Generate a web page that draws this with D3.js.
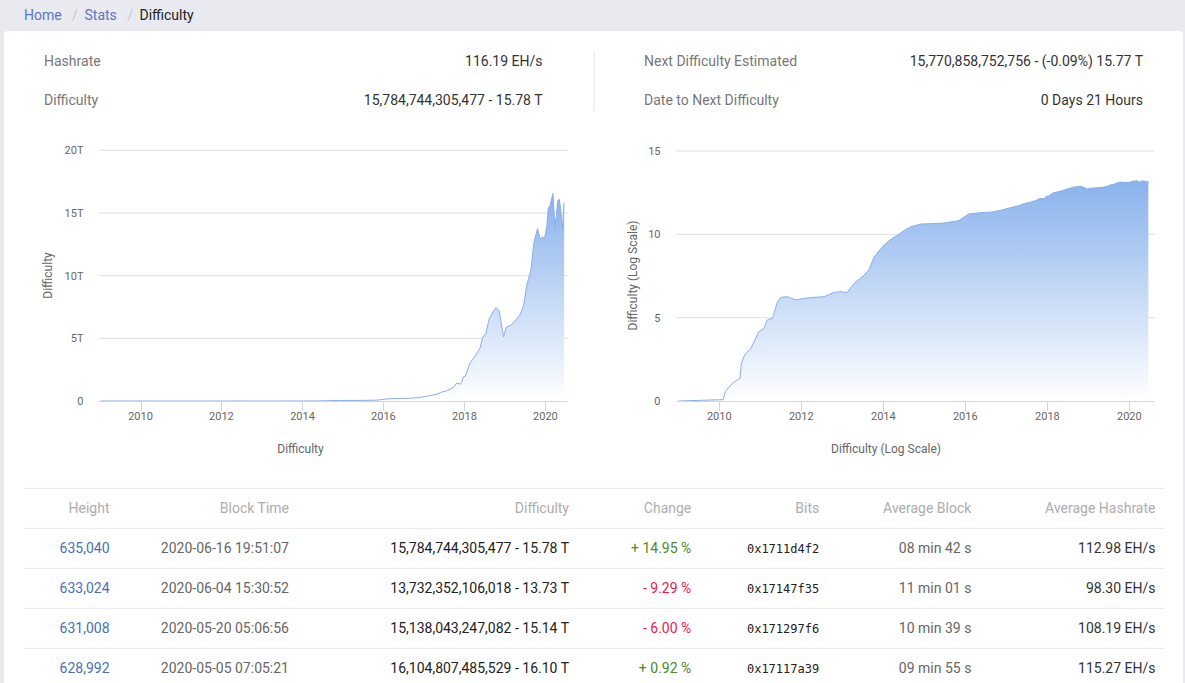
<!DOCTYPE html>
<html>
<head>
<meta charset="utf-8">
<title>Difficulty</title>
<script src="https://d3js.org/d3.v7.min.js"></script>
<style>
  body { margin: 0; background: #e9eaef; overflow: hidden; }
  svg text { font-family: Roboto, sans-serif; }
  .mono { font-family: "DejaVu Sans Mono", monospace; }
</style>
</head>
<body>
<svg id="page" width="1185" height="683"></svg>
<script>
// ---- data ----
var crumbs = ["Home", "Stats", "Difficulty"];

var statLabels = ["Hashrate", "Difficulty", "Next Difficulty Estimated", "Date to Next Difficulty"];
var statValues = ["116.19 EH/s", "15,784,744,305,477 - 15.78 T", "15,770,858,752,756 - (-0.09%) 15.77 T", "0 Days 21 Hours"];

// difficulty history (retarget dates, raw difficulty)
var diffDates = [
  "2009-01-03", "2010-02-05", "2010-02-24", "2010-04-27", "2010-06-10", "2010-07-05", "2010-07-16",
  "2010-08-15", "2010-10-09", "2010-11-07", "2010-12-20", "2011-02-03", "2011-03-04", "2011-04-20",
  "2011-06-03", "2011-07-02", "2011-08-29", "2011-11-14", "2012-01-26", "2012-04-23", "2012-07-23",
  "2012-10-19", "2012-12-20", "2013-02-10", "2013-04-16", "2013-07-16", "2013-08-27", "2013-10-12",
  "2014-01-08", "2014-03-10", "2014-05-08", "2014-07-10", "2014-09-05", "2014-12-01", "2015-06-10",
  "2015-11-01", "2016-02-01", "2016-05-01", "2016-08-28", "2016-11-15", "2017-01-15", "2017-03-15",
  "2017-04-28", "2017-06-10", "2017-07-20", "2017-08-25", "2017-09-28", "2017-10-22", "2017-11-25",
  "2017-12-06", "2017-12-22", "2018-01-08", "2018-02-20", "2018-04-05", "2018-05-22", "2018-06-13",
  "2018-07-12", "2018-08-15", "2018-09-20", "2018-10-12", "2018-11-10", "2018-12-03", "2018-12-20",
  "2019-01-12", "2019-03-05", "2019-04-12", "2019-05-15", "2019-06-18", "2019-07-16", "2019-08-22",
  "2019-09-20", "2019-10-22", "2019-11-13", "2019-12-28", "2020-01-14", "2020-01-27", "2020-02-10",
  "2020-03-09", "2020-03-26", "2020-04-08", "2020-04-21", "2020-05-05", "2020-05-20", "2020-06-04",
  "2020-06-16", "2020-06-18"
];
var diffValues = [
  1, 1.2, 3.6, 11.5, 18.2, 23, 182,
  575, 1445, 3630, 14450, 22900, 72400, 91200,
  912000, 1660000, 1820000, 1150000, 1450000, 1660000, 1820000,
  3310000, 3630000, 3160000, 11500000, 36300000, 79400000, 457000000,
  2.29e9, 5.0e9, 9.12e9, 1.78e10, 2.88e10, 4.17e10, 4.6e10,
  6.6e10, 1.66e11, 1.95e11, 2.2e11, 2.8e11, 3.6e11, 4.6e11,
  5.4e11, 7.1e11, 8.0e11, 9.4e11, 1.12e12, 1.42e12, 1.35e12,
  1.47e12, 1.93e12, 1.96e12, 3.03e12, 3.57e12, 4.24e12, 5.04e12,
  5.39e12, 6.65e12, 7.18e12, 7.45e12, 7.18e12, 5.98e12, 5.11e12,
  5.88e12, 6.11e12, 6.51e12, 6.84e12, 7.59e12, 9.2e12, 10.4e12,
  12.7e12, 13.75e12, 12.95e12, 13.1e12, 14.0e12, 15.4e12, 15.55e12,
  16.55e12, 13.91e12, 14.72e12, 15.96e12, 16.10e12, 15.14e12, 13.73e12,
  15.78e12, 15.78e12
];

var linTicks = [0, 5, 10, 15, 20];
var linTickLabels = ["0", "5T", "10T", "15T", "20T"];
var logTicks = [0, 5, 10, 15];
var logTickLabels = ["0", "5", "10", "15"];

var tableHeaders = ["Height", "Block Time", "Difficulty", "Change", "Bits", "Average Block", "Average Hashrate"];
var heights = ["635,040", "633,024", "631,008", "628,992"];
var blockTimes = ["2020-06-16 19:51:07", "2020-06-04 15:30:52", "2020-05-20 05:06:56", "2020-05-05 07:05:21"];
var rowDifficulty = ["15,784,744,305,477 - 15.78 T", "13,732,352,106,018 - 13.73 T", "15,138,043,247,082 - 15.14 T", "16,104,807,485,529 - 16.10 T"];
var changes = ["+ 14.95 %", "- 9.29 %", "- 6.00 %", "+ 0.92 %"];
var bits = ["0x1711d4f2", "0x17147f35", "0x171297f6", "0x17117a39"];
var avgBlocks = ["08 min 42 s", "11 min 01 s", "10 min 39 s", "09 min 55 s"];
var avgHashrates = ["112.98 EH/s", "98.30 EH/s", "108.19 EH/s", "115.27 EH/s"];

// ---- page ----
var svg = d3.select("#page");
var parse = d3.timeParse("%Y-%m-%d");
var series = diffDates.map(function (d, i) { return { date: parse(d), value: diffValues[i] }; });

// breadcrumb
var crumbX = [24, 84.5, 139.5];
svg.selectAll("text.crumb").data(crumbs).enter().append("text")
  .attr("class", "crumb")
  .attr("x", function (d, i) { return crumbX[i]; })
  .attr("y", 14.7).attr("dy", "0.35em")
  .style("font-size", "14px")
  .style("fill", function (d, i) { return i < 2 ? "#5a76c2" : "#222"; })
  .text(function (d) { return d; });
[72, 127.5].forEach(function (x) {
  svg.append("text").attr("x", x).attr("y", 14.7).attr("dy", "0.35em")
    .style("font-size", "14px").style("fill", "#c4c6cc").text("/");
});

// card
svg.append("rect").attr("x", 4).attr("y", 31).attr("width", 1179).attr("height", 700)
  .attr("rx", 4).style("fill", "#fff");

// stats
statLabels.forEach(function (l, i) {
  var col = Math.floor(i / 2), row = i % 2;
  var y = row === 0 ? 60.7 : 99.8;
  svg.append("text").attr("x", col === 0 ? 44 : 644).attr("y", y).attr("dy", "0.35em")
    .style("font-size", "14px").style("fill", "#777").text(l);
  svg.append("text").attr("x", col === 0 ? 542.5 : 1143).attr("y", y).attr("dy", "0.35em")
    .attr("text-anchor", "end")
    .style("font-size", "14px").style("fill", "#333").text(statValues[i]);
});
svg.append("line").attr("x1", 594).attr("x2", 594).attr("y1", 51).attr("y2", 111)
  .style("stroke", "#e3e3e3");

// gradient
var defs = svg.append("defs");
var grad = defs.append("linearGradient").attr("id", "areaGrad")
  .attr("x1", 0).attr("y1", 0).attr("x2", 0).attr("y2", 1);
grad.append("stop").attr("offset", "0%").attr("stop-color", "#89b2ec");
grad.append("stop").attr("offset", "100%").attr("stop-color", "#ffffff");

function drawChart(o) {
  var g = svg.append("g");
  var x = d3.scaleTime().domain(o.xDomain).range(o.xRange);
  var y = d3.scaleLinear().domain(o.yDomain).range([401, o.yTop]);

  // grid
  g.selectAll("line.grid").data(o.ticks.filter(function (t) { return t > 0; })).enter()
    .append("line")
    .attr("x1", o.xRange[0]).attr("x2", o.xRange[1])
    .attr("y1", function (d) { return y(d); }).attr("y2", function (d) { return y(d); })
    .style("stroke", "#dedede").style("stroke-width", 1);

  // y labels
  g.selectAll("text.ylab").data(o.ticks).enter().append("text")
    .attr("x", o.yLabelX).attr("y", function (d) { return y(d); }).attr("dy", "0.35em")
    .attr("text-anchor", "end")
    .style("font-size", "11px").style("fill", "#666")
    .text(function (d, i) { return o.tickLabels[i]; });

  // area + line
  var area = d3.area()
    .x(function (d) { return x(d.date); })
    .y0(y(0))
    .y1(function (d) { return y(o.val(d)); });
  var line = d3.line()
    .x(function (d) { return x(d.date); })
    .y(function (d) { return y(o.val(d)); });
  g.append("path").datum(series).attr("d", area).style("fill", "url(#areaGrad)");
  g.append("path").datum(series).attr("d", line)
    .style("fill", "none").style("stroke", "#88afe8").style("stroke-width", 1);

  // x axis
  g.append("line").attr("x1", o.xRange[0]).attr("x2", o.xRange[1])
    .attr("y1", 401.5).attr("y2", 401.5).style("stroke", "#ccd6eb");
  var xt = d3.timeYear.every(2).range(new Date(2010, 0, 1), o.xDomain[1]);
  g.selectAll("line.xt").data(xt).enter().append("line")
    .attr("x1", function (d) { return Math.round(x(d)) + 0.5; })
    .attr("x2", function (d) { return Math.round(x(d)) + 0.5; })
    .attr("y1", 401).attr("y2", 411).style("stroke", "#ccd6eb");
  g.selectAll("text.xl").data(xt).enter().append("text")
    .attr("x", function (d) { return x(d); }).attr("y", 415.7).attr("dy", "0.35em")
    .attr("text-anchor", "middle")
    .style("font-size", "11px").style("fill", "#666")
    .text(d3.timeFormat("%Y"));

  // titles
  g.append("text").attr("x", o.xTitleX).attr("y", 449).attr("dy", "0.35em")
    .attr("text-anchor", "middle").style("font-size", "12px").style("fill", "#666")
    .text(o.title);
  g.append("text").attr("transform", "translate(" + o.yTitleX + ",275.5) rotate(-90)")
    .attr("dy", "0.35em")
    .attr("text-anchor", "middle").style("font-size", "12px").style("fill", "#666")
    .text(o.title);
}

drawChart({
  xDomain: [new Date(2008, 11, 20), new Date(2020, 6, 19)],
  xRange: [98.7, 567.6],
  yDomain: [0, 20], yTop: 150.3,
  ticks: linTicks, tickLabels: linTickLabels, yLabelX: 83.5,
  val: function (d) { return d.value / 1e12; },
  title: "Difficulty", xTitleX: 300.5, yTitleX: 47.5
});

drawChart({
  xDomain: [new Date(2008, 11, 16), new Date(2020, 7, 10)],
  xRange: [676.5, 1154.3],
  yDomain: [0, 15], yTop: 151,
  ticks: logTicks, tickLabels: logTickLabels, yLabelX: 660.5,
  val: function (d) { return Math.log10(d.value); },
  title: "Difficulty (Log Scale)", xTitleX: 886, yTitleX: 633
});

// table
var colRight = [109.5, 289, 569, 691.3, 819.2, 971.4, 1155.5];
[488.3, 528.3, 568.3, 608.3, 648.3].forEach(function (y) {
  svg.append("line").attr("x1", 24).attr("x2", 1164).attr("y1", y).attr("y2", y)
    .style("stroke", "#e6e9ef");
});
tableHeaders.forEach(function (h, i) {
  svg.append("text").attr("x", colRight[i]).attr("y", 508.3).attr("dy", "0.35em")
    .attr("text-anchor", "end").style("font-size", "14px").style("fill", "#adadad").text(h);
});
var columns = [heights, blockTimes, rowDifficulty, changes, bits, avgBlocks, avgHashrates];
var colColors = ["#4a70b4", "#666", "#222", null, "#222", "#666", "#333"];
heights.forEach(function (h, r) {
  var y = 547.7 + 40 * r;
  columns.forEach(function (col, c) {
    var t = svg.append("text").attr("x", colRight[c]).attr("y", c === 4 ? y + 1.5 : y)
      .attr("dy", "0.35em").attr("text-anchor", "end")
      .style("font-size", c === 4 ? "12px" : "14px")
      .style("fill", c === 3 ? (col[r].charAt(0) === "+" ? "#4b8a24" : "#ea1a4c") : colColors[c])
      .text(col[r]);
    if (c === 4) t.attr("class", "mono");
  });
});
</script>
</body>
</html>
